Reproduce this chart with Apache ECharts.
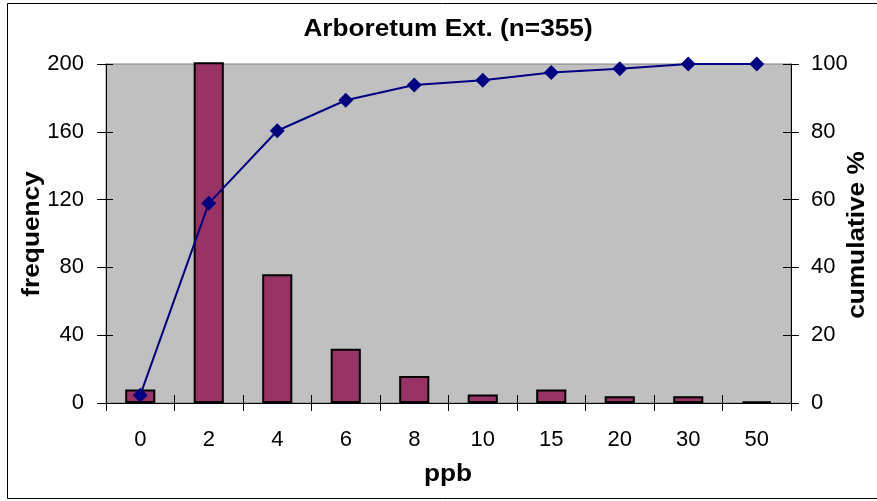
<!DOCTYPE html>
<html>
<head>
<meta charset="utf-8">
<script src="https://cdn.jsdelivr.net/npm/echarts@6/dist/echarts.min.js"></script>
<style>html,body{margin:0;padding:0;background:#fff;}#c{width:877px;height:501px;}</style>
</head>
<body>
<div id="c"></div>
<script>
const categories = ['0','2','4','6','8','10','15','20','30','50'];
const frequency = [8, 201, 76, 32, 16, 5, 8, 4, 4, 1];
const cumulativePct = [2.3, 58.9, 80.3, 89.3, 93.8, 95.2, 97.5, 98.6, 100, 100];
const leftTicks = {min: 0, max: 200, interval: 40};
const rightTicks = {min: 0, max: 100, interval: 20};
const titleText = 'Arboretum Ext. (n=355)';
const xName = 'ppb', yLeftName = 'frequency', yRightName = 'cumulative %';

const FONT = '"Liberation Sans", Arial, sans-serif';
const chart = echarts.init(document.getElementById('c'), null, {renderer: 'canvas'});
const lbl = {color: '#000', fontFamily: FONT, fontSize: 22};
const axisLine = {show: true, lineStyle: {color: '#000', width: 1}};
chart.setOption({
  animation: false,
  backgroundColor: '#fff',
  grid: {left: 106, top: 64, width: 685, height: 339, show: true, backgroundColor: '#c0c0c0', borderColor: '#808080', borderWidth: 1},
  xAxis: [
    {type: 'category', data: categories, boundaryGap: true, axisLine: axisLine,
     axisTick: {show: true, length: 8, lineStyle: {color: '#000'}}, axisLabel: Object.assign({margin: 26}, lbl), splitLine: {show: false}},
    {type: 'category', data: categories, position: 'bottom', boundaryGap: true, axisLine: {show: false},
     axisTick: {show: true, inside: true, length: 8, lineStyle: {color: '#000'}}, axisLabel: {show: false}}
  ],
  yAxis: [
    Object.assign({type: 'value', position: 'left', axisLine: axisLine, splitLine: {show: false},
     axisTick: {show: true, length: 9, lineStyle: {color: '#000'}}, axisLabel: Object.assign({margin: 22}, lbl)}, leftTicks),
    Object.assign({type: 'value', position: 'right', axisLine: axisLine, splitLine: {show: false},
     axisTick: {show: true, length: 8, lineStyle: {color: '#000'}}, axisLabel: Object.assign({margin: 20}, lbl)}, rightTicks),
    Object.assign({type: 'value', position: 'left', axisLine: {show: false}, splitLine: {show: false},
     axisTick: {show: true, inside: true, length: 7, lineStyle: {color: '#000'}}, axisLabel: {show: false}}, leftTicks),
    Object.assign({type: 'value', position: 'right', axisLine: {show: false}, splitLine: {show: false},
     axisTick: {show: true, inside: true, length: 8, lineStyle: {color: '#000'}}, axisLabel: {show: false}}, rightTicks)
  ],
  series: [
    {type: 'bar', name: yLeftName, data: frequency, xAxisIndex: 0, yAxisIndex: 0, barWidth: '44%', clip: false,
     itemStyle: {color: '#993366', borderColor: '#000', borderWidth: 2}},
    {type: 'line', name: yRightName, data: cumulativePct, xAxisIndex: 0, yAxisIndex: 1, clip: false,
     symbol: 'diamond', symbolSize: 15, lineStyle: {color: '#000080', width: 2},
     itemStyle: {color: '#000080'}, z: 5}
  ],
  graphic: [
    {type: 'rect', shape: {x: 7.5, y: 3.5, width: 900, height: 495}, style: {fill: 'none', stroke: '#000', lineWidth: 1}, silent: true},
    {type: 'text', x: 448, y: 30, scaleX: 1.14, style: {text: titleText, font: 'bold 23px ' + FONT, fill: '#000', align: 'center', verticalAlign: 'middle'}},
    {type: 'text', x: 448, y: 475, scaleX: 1.14, style: {text: xName, font: 'bold 23px ' + FONT, fill: '#000', align: 'center', verticalAlign: 'middle'}},
    {type: 'text', x: 33, y: 234, rotation: Math.PI / 2, scaleX: 1.14, style: {text: yLeftName, font: 'bold 23px ' + FONT, fill: '#000', align: 'center', verticalAlign: 'middle'}},
    {type: 'text', x: 858, y: 235, rotation: Math.PI / 2, scaleX: 1.14, style: {text: yRightName, font: 'bold 23px ' + FONT, fill: '#000', align: 'center', verticalAlign: 'middle'}}
  ]
});
</script>
</body>
</html>
